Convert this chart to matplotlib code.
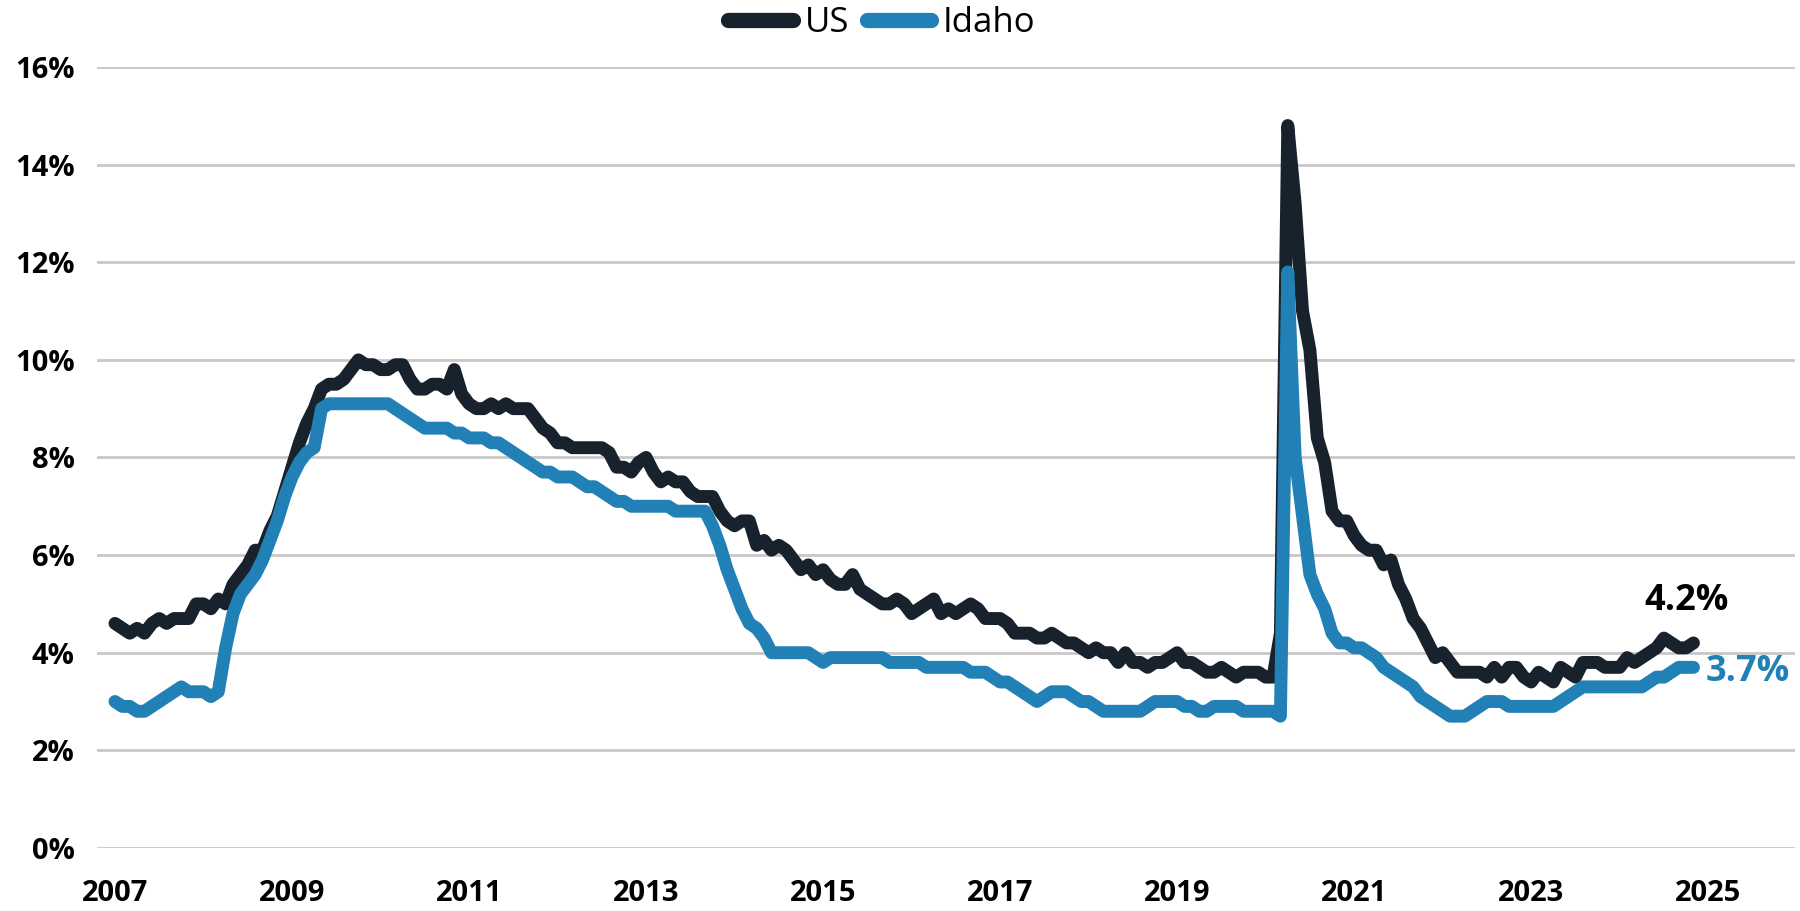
import matplotlib
matplotlib.use("Agg")
import matplotlib.pyplot as plt
import numpy as np

plt.rcParams['font.family'] = ['Open Sans', 'DejaVu Sans']

# Monthly unemployment rate (%), Jan 2007 .. Nov 2024
start_year = 2007
us_rate = [
    4.6, 4.5, 4.4, 4.5, 4.4, 4.6, 4.7, 4.6, 4.7, 4.7, 4.7, 5.0,   # 2007
    5.0, 4.9, 5.1, 5.0, 5.4, 5.6, 5.8, 6.1, 6.1, 6.5, 6.8, 7.3,   # 2008
    7.8, 8.3, 8.7, 9.0, 9.4, 9.5, 9.5, 9.6, 9.8, 10.0, 9.9, 9.9,  # 2009
    9.8, 9.8, 9.9, 9.9, 9.6, 9.4, 9.4, 9.5, 9.5, 9.4, 9.8, 9.3,   # 2010
    9.1, 9.0, 9.0, 9.1, 9.0, 9.1, 9.0, 9.0, 9.0, 8.8, 8.6, 8.5,   # 2011
    8.3, 8.3, 8.2, 8.2, 8.2, 8.2, 8.2, 8.1, 7.8, 7.8, 7.7, 7.9,   # 2012
    8.0, 7.7, 7.5, 7.6, 7.5, 7.5, 7.3, 7.2, 7.2, 7.2, 6.9, 6.7,   # 2013
    6.6, 6.7, 6.7, 6.2, 6.3, 6.1, 6.2, 6.1, 5.9, 5.7, 5.8, 5.6,   # 2014
    5.7, 5.5, 5.4, 5.4, 5.6, 5.3, 5.2, 5.1, 5.0, 5.0, 5.1, 5.0,   # 2015
    4.8, 4.9, 5.0, 5.1, 4.8, 4.9, 4.8, 4.9, 5.0, 4.9, 4.7, 4.7,   # 2016
    4.7, 4.6, 4.4, 4.4, 4.4, 4.3, 4.3, 4.4, 4.3, 4.2, 4.2, 4.1,   # 2017
    4.0, 4.1, 4.0, 4.0, 3.8, 4.0, 3.8, 3.8, 3.7, 3.8, 3.8, 3.9,   # 2018
    4.0, 3.8, 3.8, 3.7, 3.6, 3.6, 3.7, 3.6, 3.5, 3.6, 3.6, 3.6,   # 2019
    3.5, 3.5, 4.4, 14.8, 13.2, 11.0, 10.2, 8.4, 7.9, 6.9, 6.7, 6.7,  # 2020
    6.4, 6.2, 6.1, 6.1, 5.8, 5.9, 5.4, 5.1, 4.7, 4.5, 4.2, 3.9,   # 2021
    4.0, 3.8, 3.6, 3.6, 3.6, 3.6, 3.5, 3.7, 3.5, 3.7, 3.7, 3.5,   # 2022
    3.4, 3.6, 3.5, 3.4, 3.7, 3.6, 3.5, 3.8, 3.8, 3.8, 3.7, 3.7,   # 2023
    3.7, 3.9, 3.8, 3.9, 4.0, 4.1, 4.3, 4.2, 4.1, 4.1, 4.2,        # 2024
]
idaho_rate = [
    3.0, 2.9, 2.9, 2.8, 2.8, 2.9, 3.0, 3.1, 3.2, 3.3, 3.2, 3.2,   # 2007
    3.2, 3.1, 3.2, 4.1, 4.8, 5.2, 5.4, 5.6, 5.9, 6.3, 6.7, 7.2,   # 2008
    7.6, 7.9, 8.1, 8.2, 9.0, 9.1, 9.1, 9.1, 9.1, 9.1, 9.1, 9.1,   # 2009
    9.1, 9.1, 9.0, 8.9, 8.8, 8.7, 8.6, 8.6, 8.6, 8.6, 8.5, 8.5,   # 2010
    8.4, 8.4, 8.4, 8.3, 8.3, 8.2, 8.1, 8.0, 7.9, 7.8, 7.7, 7.7,   # 2011
    7.6, 7.6, 7.6, 7.5, 7.4, 7.4, 7.3, 7.2, 7.1, 7.1, 7.0, 7.0,   # 2012
    7.0, 7.0, 7.0, 7.0, 6.9, 6.9, 6.9, 6.9, 6.9, 6.6, 6.2, 5.7,   # 2013
    5.3, 4.9, 4.6, 4.5, 4.3, 4.0, 4.0, 4.0, 4.0, 4.0, 4.0, 3.9,   # 2014
    3.8, 3.9, 3.9, 3.9, 3.9, 3.9, 3.9, 3.9, 3.9, 3.8, 3.8, 3.8,   # 2015
    3.8, 3.8, 3.7, 3.7, 3.7, 3.7, 3.7, 3.7, 3.6, 3.6, 3.6, 3.5,   # 2016
    3.4, 3.4, 3.3, 3.2, 3.1, 3.0, 3.1, 3.2, 3.2, 3.2, 3.1, 3.0,   # 2017
    3.0, 2.9, 2.8, 2.8, 2.8, 2.8, 2.8, 2.8, 2.9, 3.0, 3.0, 3.0,   # 2018
    3.0, 2.9, 2.9, 2.8, 2.8, 2.9, 2.9, 2.9, 2.9, 2.8, 2.8, 2.8,   # 2019
    2.8, 2.8, 2.7, 11.8, 8.0, 6.8, 5.6, 5.2, 4.9, 4.4, 4.2, 4.2,  # 2020
    4.1, 4.1, 4.0, 3.9, 3.7, 3.6, 3.5, 3.4, 3.3, 3.1, 3.0, 2.9,   # 2021
    2.8, 2.7, 2.7, 2.7, 2.8, 2.9, 3.0, 3.0, 3.0, 2.9, 2.9, 2.9,   # 2022
    2.9, 2.9, 2.9, 2.9, 3.0, 3.1, 3.2, 3.3, 3.3, 3.3, 3.3, 3.3,   # 2023
    3.3, 3.3, 3.3, 3.3, 3.4, 3.5, 3.5, 3.6, 3.7, 3.7, 3.7,        # 2024
]
series_names = ["US", "Idaho"]
year_ticks = [2007, 2009, 2011, 2013, 2015, 2017, 2019, 2021, 2023, 2025]
y_ticks = [0, 2, 4, 6, 8, 10, 12, 14, 16]

us_color = "#18222d"
idaho_color = "#2180b5"

x = start_year + np.arange(len(us_rate)) / 12.0

fig = plt.figure(figsize=(18, 9.11), dpi=100)
ax = fig.add_axes([0.0539, 0.0692, 0.9433, 0.8573])

lw = 9.3
l1, = ax.plot(x, us_rate, color=us_color, lw=lw, solid_capstyle='round',
              solid_joinstyle='round', label=series_names[0], zorder=3)
l2, = ax.plot(x, idaho_rate, color=idaho_color, lw=lw, solid_capstyle='round',
              solid_joinstyle='round', label=series_names[1], zorder=4)

ax.set_xlim(2006.797, 2025.98)
ax.set_ylim(0, 16)
ax.set_yticks(y_ticks)
ax.set_yticklabels([f"{v}%" for v in y_ticks])
ax.set_xticks(year_ticks)
ax.set_xticklabels([str(v) for v in year_ticks])

for s in ax.spines.values():
    s.set_visible(False)
ax.grid(axis='y', color='#c8c8c8', lw=2.0, zorder=0)
ax.set_axisbelow(True)
ax.tick_params(axis='both', length=0, labelsize=21, colors='black')
ax.tick_params(axis='y', pad=16)
ax.tick_params(axis='x', pad=22)
for t in ax.get_xticklabels() + ax.get_yticklabels():
    t.set_fontweight('bold')

# end labels
ax.annotate(f"{us_rate[-1]:.1f}%", xy=(x[-1], us_rate[-1]), xytext=(-5, 30),
            textcoords='offset points', ha='center', va='center',
            fontsize=26, fontweight='bold', color='black')
ax.annotate(f"{idaho_rate[-1]:.1f}%", xy=(x[-1], idaho_rate[-1]), xytext=(9, -3),
            textcoords='offset points', ha='left', va='center',
            fontsize=26, fontweight='bold', color=idaho_color)

leg = fig.legend(handles=[l1, l2], loc='center', bbox_to_anchor=(0.49, 0.975),
                 ncol=2, frameon=False, fontsize=25, handlelength=1.85,
                 columnspacing=0.5, handletextpad=0.35)
for h in leg.get_lines():
    h.set_linewidth(11)
    h.set_solid_capstyle('round')

fig.savefig("out.png", dpi=100)
